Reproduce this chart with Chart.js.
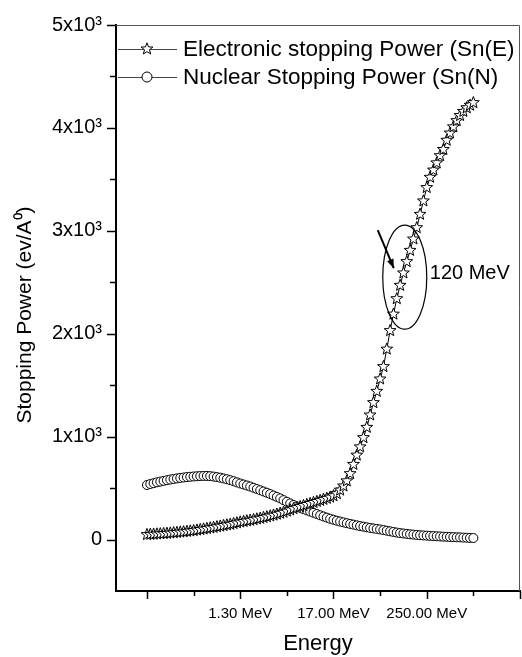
<!DOCTYPE html>
<html><head><meta charset="utf-8">
<script src="https://cdn.jsdelivr.net/npm/chart.js@4/dist/chart.umd.min.js"></script>
<style>html,body{margin:0;padding:0;background:#fff;}canvas{display:block;}</style>
</head><body>
<canvas id="c" width="522" height="657"></canvas>
<script>
// ---- data (index along log-energy axis) ----
const electronic = [48,50,52,54,56,58,60,63,66,69,72,75,79,83,87,92,97,
  102,107,113,118,124,130,136,142,148,155,162,170,
  175,181,187,193,200,207,214,221,229,237,246,255,265,276,288,300,
  310,320,330,340,350,360,370,380,390,400,412,425,
  445,480,520,570,640,730,820,900,990,1090,1210,1330,1440,1560,1680,1850,2030,2190,2340,2470,2590,2700,2810,2920,3030,3160,3290,3420,3520,3590,3660,3730,3790,3880,3950,4010,4070,4120,4160,4195,4220,4245];
const nuclear = [530,540,548,556,563,570,577,583,589,594,
  599,603,607,610,613,615,617,618,618,616,
  612,607,601,594,586,577,567,556,545,535,
  525,515,503,491,479,467,455,442,428,414,
  400,383,367,351,336,322,309,296,284,272,
  260,248,236,224,213,202,192,183,175,167,
  159,152,145,138,131,125,119,113,108,103,
  98,92,86,80,74,68,63,59,55,51,
  48,45,42,40,38,36,34,32,30,28,
  27,25,24,22,21,19,18,16,15];
const seriesNames = ['Electronic stopping Power (Sn(E)', 'Nuclear Stopping Power (Sn(N)'];
const xTickValues = [0,14,28,42,56,70,84,98,112];
const xTickLabels = {28:'1.30 MeV', 56:'17.00 MeV', 84:'250.00 MeV'};
const yTickLabels = {0:'0', 1000:'1x10\u00B3', 2000:'2x10\u00B3', 3000:'3x10\u00B3', 4000:'4x10\u00B3', 5000:'5x10\u00B3'};
const xTitle = 'Energy';
const yTitle = 'Stopping Power (ev/A\u2070)';
const noteText = '120 MeV';
const notePoint = {x: 77.4, y: 2550};

const FONT = "'Liberation Sans', Arial, sans-serif";

function starPath(ctx, x, y, outer, inner) {
  ctx.beginPath();
  for (let k = 0; k < 10; k++) {
    const r = k % 2 ? inner : outer;
    const a = -Math.PI / 2 + k * Math.PI / 5;
    ctx.lineTo(x + r * Math.cos(a), y + r * Math.sin(a));
  }
  ctx.closePath();
}
function drawStar(ctx, x, y) {
  starPath(ctx, x, y, 6.2, 2.6);
  ctx.fillStyle = '#fff'; ctx.fill();
  ctx.strokeStyle = '#000'; ctx.lineWidth = 1; ctx.stroke();
}

const toPts = arr => arr.map((v, i) => ({x: i, y: v}));

// stars drawn as vector outlines at the element positions computed by Chart.js
const starPlugin = {
  id: 'stars',
  afterDatasetsDraw(chart) {
    const meta = chart.getDatasetMeta(0);
    const ctx = chart.ctx;
    ctx.save();
    meta.data.forEach(el => drawStar(ctx, el.x, el.y));
    ctx.restore();
  }
};

const decorPlugin = {
  id: 'decor',
  afterDraw(chart) {
    const ctx = chart.ctx, xs = chart.scales.x, ys = chart.scales.y, ca = chart.chartArea;
    ctx.save();
    // frame top/right
    ctx.strokeStyle = '#555'; ctx.lineWidth = 1;
    ctx.beginPath();
    ctx.moveTo(ca.left, ca.top + 0.5); ctx.lineTo(ca.right - 0.5, ca.top + 0.5); ctx.lineTo(ca.right - 0.5, ca.bottom);
    ctx.stroke();
    // ticks
    ctx.strokeStyle = '#000'; ctx.lineWidth = 1.5;
    ctx.beginPath();
    xTickValues.forEach(v => {
      const px = Math.round(xs.getPixelForValue(v)) + 0.5;
      const len = v % 28 === 0 ? 8 : 5;
      ctx.moveTo(px, ca.bottom); ctx.lineTo(px, ca.bottom + len);
    });
    ys.ticks.forEach(t => {
      if (t.value <= ys.min) return;
      const py = Math.round(ys.getPixelForValue(t.value)) + 0.5;
      const len = t.value % 1000 === 0 ? 9 : 6;
      ctx.moveTo(ca.left - len, py); ctx.lineTo(ca.left, py);
    });
    ctx.stroke();
    // y title
    ctx.save();
    ctx.translate(25, (ca.top + ca.bottom) / 2 + 7);
    ctx.rotate(-Math.PI / 2);
    ctx.font = '21px ' + FONT; ctx.textAlign = 'center'; ctx.textBaseline = 'middle'; ctx.fillStyle = '#000';
    ctx.fillText(yTitle, 0, 0);
    ctx.restore();
    // legend
    const ly = [ca.top + 24, ca.top + 52];
    ctx.font = '22.5px ' + FONT; ctx.textBaseline = 'middle'; ctx.fillStyle = '#000';
    ly.forEach((y, k) => {
      ctx.strokeStyle = '#444'; ctx.lineWidth = 1;
      ctx.beginPath(); ctx.moveTo(ca.left + 2, y + 0.5); ctx.lineTo(ca.left + 61, y + 0.5); ctx.stroke();
      const mx = ca.left + 31;
      if (k === 0) {
        drawStar(ctx, mx, y);
      } else {
        ctx.beginPath(); ctx.arc(mx, y, 5, 0, Math.PI * 2);
        ctx.fillStyle = '#fff'; ctx.fill(); ctx.strokeStyle = '#000'; ctx.lineWidth = 1; ctx.stroke();
      }
      ctx.fillStyle = '#000';
      ctx.fillText(seriesNames[k], ca.left + 67, y + 1);
    });
    // annotation
    const cx = xs.getPixelForValue(notePoint.x), cy = ys.getPixelForValue(notePoint.y);
    ctx.strokeStyle = '#000'; ctx.lineWidth = 1.2;
    ctx.beginPath(); ctx.ellipse(cx, cy, 22, 52, 0, 0, Math.PI * 2); ctx.stroke();
    const x1 = cx - 27, y1 = cy - 47, x2 = cx - 11, y2 = cy - 9;
    ctx.lineWidth = 2;
    ctx.beginPath(); ctx.moveTo(x1, y1); ctx.lineTo(x2, y2); ctx.stroke();
    const ang = Math.atan2(y2 - y1, x2 - x1);
    ctx.beginPath();
    ctx.moveTo(x2, y2);
    ctx.lineTo(x2 - 9 * Math.cos(ang) + 3.5 * Math.sin(ang), y2 - 9 * Math.sin(ang) - 3.5 * Math.cos(ang));
    ctx.lineTo(x2 - 9 * Math.cos(ang) - 3.5 * Math.sin(ang), y2 - 9 * Math.sin(ang) + 3.5 * Math.cos(ang));
    ctx.closePath(); ctx.fillStyle = '#000'; ctx.fill();
    ctx.font = '20px ' + FONT; ctx.textBaseline = 'middle';
    ctx.fillText(noteText, cx + 25, cy - 4);
    ctx.restore();
  }
};

new Chart(document.getElementById('c'), {
  type: 'line',
  data: {
    datasets: [
      {label: seriesNames[0], data: toPts(electronic), borderColor: '#000', borderWidth: 1,
       pointRadius: 0, tension: 0},
      {label: seriesNames[1], data: toPts(nuclear), borderColor: '#000', borderWidth: 1,
       pointStyle: 'circle', pointRadius: 4.5, pointBorderWidth: 1, pointBackgroundColor: '#fff', tension: 0}
    ]
  },
  options: {
    responsive: false, animation: false, devicePixelRatio: 1,
    layout: {autoPadding: false, padding: {left: 0, top: 25, right: 2, bottom: 0}},
    plugins: {legend: {display: false}, tooltip: {enabled: false}},
    scales: {
      x: {
        type: 'linear', min: -9.3, max: 112,
        afterBuildTicks: s => { s.ticks = xTickValues.map(v => ({value: v})); },
        afterFit: s => { s.height = 66; s.paddingLeft = 0; s.paddingRight = 0; s.paddingTop = 0; s.paddingBottom = 0; },
        ticks: {autoSkip: false, maxRotation: 0, padding: 14, color: '#000',
          font: {family: FONT, size: 15},
          callback: v => xTickLabels[v] || ''},
        grid: {display: true, drawOnChartArea: false, drawTicks: false},
        border: {display: true, color: '#000', width: 2},
        title: {display: true, text: xTitle, color: '#000', font: {family: FONT, size: 22}, padding: {top: 0, bottom: 0}}
      },
      y: {
        type: 'linear', min: -500, max: 5000,
        afterFit: s => { s.width = 116; s.paddingLeft = 0; s.paddingRight = 0; s.paddingTop = 0; s.paddingBottom = 0; },
        ticks: {stepSize: 500, autoSkip: false, padding: 14, color: '#000',
          font: {family: FONT, size: 20},
          callback: v => (yTickLabels[v] !== undefined ? yTickLabels[v] : '')},
        grid: {display: true, drawOnChartArea: false, drawTicks: false},
        border: {display: true, color: '#000', width: 2},
        title: {display: false}
      }
    }
  },
  plugins: [starPlugin, decorPlugin]
});
</script>
</body></html>
